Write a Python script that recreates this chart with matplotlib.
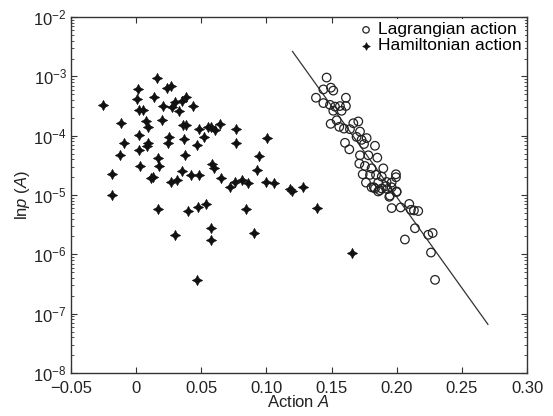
import numpy as np
import matplotlib
matplotlib.use('Agg')
import matplotlib.pyplot as plt
from matplotlib.ticker import FixedLocator, LogLocator, NullFormatter

plt.rcParams['font.family'] = ['Liberation Sans', 'DejaVu Sans']
plt.rcParams['mathtext.fontset'] = 'custom'
plt.rcParams['mathtext.rm'] = 'Liberation Sans'
plt.rcParams['mathtext.it'] = 'Liberation Sans:italic'

# --- data ---
# Hamiltonian action (stars): x = action, y = log10 p
ham_x = [-0.0257, 0.0162, 0.0012, 0.0010, 0.0020, 0.0050, 0.0139, 0.0234, 0.0267, 0.0209,
         0.0272, 0.0298, 0.0329, 0.0349, 0.0383, 0.0439, 0.0196, 0.0076, 0.0093, -0.0119,
         -0.0091, -0.0124, -0.0183, -0.0183, 0.0020, 0.0020, 0.0030, 0.0093, 0.0086, 0.0170,
         0.0173, 0.0114, 0.0132, 0.0252, 0.0247, 0.0267, 0.0311, 0.0349, 0.0367, 0.0375,
         0.0357, 0.0380, 0.0421, 0.0485, 0.0465, 0.0485, 0.0523, 0.0554, 0.0572, 0.0605,
         0.0644, 0.0580, 0.0597, 0.0649, 0.0720, 0.0759, 0.0810, 0.0861, 0.0766, 0.0766,
         0.0930, 0.0945, 0.1002, 0.0997, 0.1060, 0.1180, 0.1194, 0.1280, 0.0170, 0.0298,
         0.0395, 0.0477, 0.0534, 0.0574, 0.0574, 0.0465, 0.0843, 0.0907, 0.1390, 0.1660]
ham_logp = [-3.48, -3.02, -3.22, -3.38, -3.56, -3.57, -3.35, -3.20, -3.17, -3.50,
            -3.52, -3.44, -3.58, -3.41, -3.34, -3.50, -3.74, -3.75, -3.85, -3.79,
            -4.12, -4.33, -4.65, -5.00, -3.99, -4.24, -4.51, -4.13, -4.17, -4.37,
            -4.51, -4.71, -4.69, -4.02, -4.13, -4.78, -4.75, -4.60, -4.06, -4.33,
            -3.82, -3.82, -4.66, -4.66, -4.15, -3.89, -4.03, -3.86, -3.85, -3.90,
            -3.80, -4.47, -4.55, -4.72, -4.86, -4.78, -4.75, -4.80, -3.88, -4.12,
            -4.57, -4.35, -4.04, -4.78, -4.80, -4.90, -4.94, -4.87, -5.24, -5.67,
            -5.27, -5.21, -5.15, -5.55, -5.75, -6.43, -5.24, -5.64, -5.22, -5.97]

# Lagrangian action (open circles)
lag_x = [0.1462, 0.1437, 0.1495, 0.1513, 0.1380, 0.1610, 0.1437, 0.1488, 0.1526, 0.1564,
         0.1610, 0.1513, 0.1577, 0.1539, 0.1493, 0.1559, 0.1595, 0.1667, 0.1705, 0.1641,
         0.1718, 0.1692, 0.1730, 0.1769, 0.1603, 0.1636, 0.1749, 0.1833, 0.1718, 0.1782,
         0.1713, 0.1756, 0.1851, 0.1807, 0.1897, 0.1739, 0.1795, 0.1841, 0.1885, 0.1994,
         0.1994, 0.1764, 0.1858, 0.1922, 0.1961, 0.1825, 0.1885, 0.1928, 0.1999, 0.1858,
         0.1943, 0.1807, 0.1833, 0.1871, 0.1917, 0.1961, 0.1999, 0.1948, 0.1961, 0.2030,
         0.2096, 0.2109, 0.2132, 0.2165, 0.2140, 0.2063, 0.2242, 0.2276, 0.2263, 0.2294]
lag_logp = [-3.02, -3.22, -3.19, -3.24, -3.36, -3.36, -3.45, -3.48, -3.51, -3.50,
            -3.50, -3.58, -3.58, -3.74, -3.80, -3.85, -3.88, -3.79, -3.76, -3.89,
            -3.93, -4.02, -4.07, -4.04, -4.12, -4.23, -4.14, -4.17, -4.33, -4.33,
            -4.47, -4.51, -4.37, -4.55, -4.55, -4.65, -4.66, -4.66, -4.69, -4.65,
            -4.70, -4.79, -4.79, -4.78, -4.79, -4.87, -4.89, -4.90, -4.94, -4.94,
            -5.03, -4.87, -4.89, -4.92, -4.85, -4.87, -4.95, -5.01, -5.22, -5.21,
            -5.15, -5.25, -5.26, -5.27, -5.56, -5.75, -5.67, -5.64, -5.97, -6.43]

# fitted line end points
fit_x = [0.12, 0.27]
fit_logp = [-2.58, -7.18]

x_ticks = [-0.05, 0, 0.05, 0.10, 0.15, 0.20, 0.25, 0.30]
x_labels = ['\u22120.05', '0', '0.05', '0.10', '0.15', '0.20', '0.25', '0.30']

fig = plt.figure(figsize=(5.53, 4.16), dpi=100)
ax = fig.add_axes([0.1284, 0.1034, 0.8246, 0.8556])

ax.plot(fit_x, 10 ** np.array(fit_logp), color='#333333', lw=0.9, zorder=2)
ax.scatter(lag_x, 10 ** np.array(lag_logp), s=38, marker='o', facecolors='none',
           edgecolors='#222222', linewidths=0.9, label='Lagrangian action', zorder=3)
ax.scatter(ham_x, 10 ** np.array(ham_logp), s=55, marker=(4, 1, 0), color='#111111',
           linewidths=0.4, label='Hamiltonian action', zorder=3)

ax.set_yscale('log')
ax.set_xlim(-0.05, 0.30)
ax.set_ylim(1e-8, 1e-2)
ax.xaxis.set_major_locator(FixedLocator(x_ticks))
ax.set_xticklabels(x_labels)
ax.yaxis.set_major_locator(LogLocator(base=10, numticks=10))
ax.yaxis.set_minor_locator(LogLocator(base=10, subs=np.arange(2, 10), numticks=20))
ax.yaxis.set_minor_formatter(NullFormatter())

ax.tick_params(which='both', direction='in', top=True, right=True, colors='#333333',
               labelcolor='#222222', labelsize=12)
ax.tick_params(axis='x', pad=6)
ax.tick_params(axis='y', pad=3)
ax.tick_params(which='major', length=4)
ax.tick_params(which='minor', length=2)
for sp in ax.spines.values():
    sp.set_color('#333333')
    sp.set_linewidth(1.0)

ax.set_xlabel('Action $\\mathit{A}$', fontsize=12, labelpad=-2, color='#222222')
ax.set_ylabel('ln$\\mathit{p}$ ($\\mathit{A}$)', fontsize=12, labelpad=1, color='#222222')

leg = ax.legend(loc='upper right', frameon=True, fontsize=12.5, handletextpad=0.2,
                borderaxespad=0.1, borderpad=0.2, labelspacing=0.05, handlelength=1.0,
                markerscale=0.75)
leg.get_frame().set_edgecolor('none')
leg.get_frame().set_facecolor('white')
leg.get_frame().set_alpha(1.0)

fig.savefig('out.png', dpi=100)
